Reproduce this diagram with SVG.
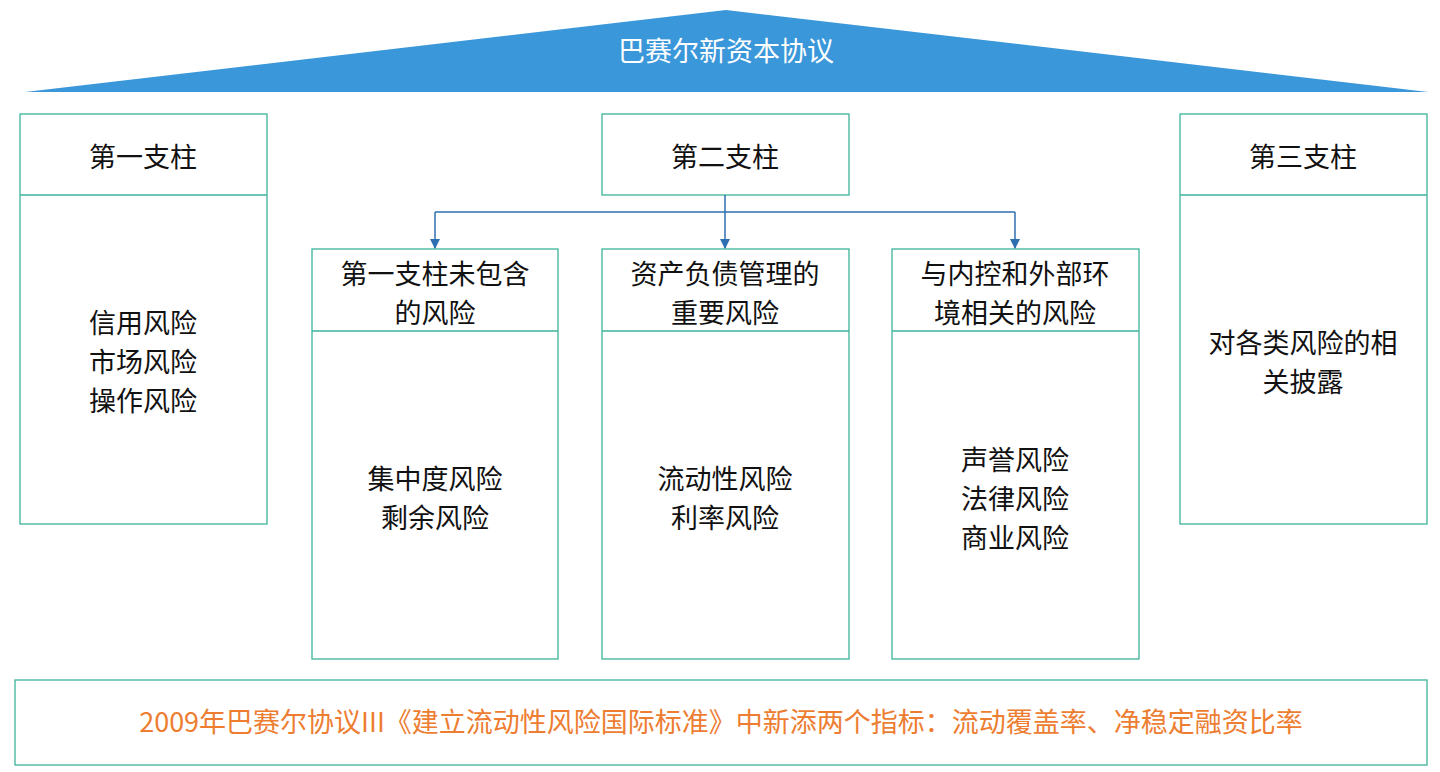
<svg xmlns="http://www.w3.org/2000/svg" width="1440" height="772" viewBox="0 0 1440 772">
<defs>
<style>
.b{fill:#fff;stroke:#3cb39a;stroke-width:1.3}
.t{font-family:"Noto Sans CJK SC","Noto Sans",sans-serif;font-size:27px;fill:#111;text-anchor:middle}
.c{fill:none;stroke:#2e6fb0;stroke-width:1.5}
</style>
<marker id="a" markerWidth="10" markerHeight="10" refX="9" refY="5" orient="auto" markerUnits="userSpaceOnUse"><path d="M0,0 L10,5 L0,10 Z" fill="#2e6fb0"/></marker>
</defs>
<rect width="1440" height="772" fill="#fff"/>
<g id="roof"><polygon points="25,92 726,10 1428,92" fill="#3a97d9"/>
<text x="726" y="61" class="t" style="fill:#fff">巴赛尔新资本协议</text></g>
<g id="p1"><rect class="b" x="20" y="114" width="247" height="410"/><line class="b" x1="20" y1="195" x2="267" y2="195"/>
<text class="t" x="143" y="167">第一支柱</text>
<text class="t" x="143" y="333">信用风险</text><text class="t" x="143" y="372">市场风险</text><text class="t" x="143" y="411">操作风险</text></g>
<g id="p2"><rect class="b" x="602" y="114" width="247" height="81"/><text class="t" x="725" y="167">第二支柱</text></g>
<g id="p3"><rect class="b" x="1180" y="114" width="247" height="410"/><line class="b" x1="1180" y1="195" x2="1427" y2="195"/>
<text class="t" x="1303" y="167">第三支柱</text>
<text class="t" x="1303" y="353">对各类风险的相</text><text class="t" x="1303" y="392">关披露</text></g>
<g id="s1"><rect class="b" x="312" y="249" width="246" height="410"/><line class="b" x1="312" y1="331" x2="558" y2="331"/>
<text class="t" x="435" y="284">第一支柱未包含</text><text class="t" x="435" y="323">的风险</text>
<text class="t" x="435" y="489">集中度风险</text><text class="t" x="435" y="528">剩余风险</text></g>
<g id="s2"><rect class="b" x="602" y="249" width="247" height="410"/><line class="b" x1="602" y1="331" x2="849" y2="331"/>
<text class="t" x="725" y="284">资产负债管理的</text><text class="t" x="725" y="323">重要风险</text>
<text class="t" x="725" y="489">流动性风险</text><text class="t" x="725" y="528">利率风险</text></g>
<g id="s3"><rect class="b" x="892" y="249" width="247" height="410"/><line class="b" x1="892" y1="331" x2="1139" y2="331"/>
<text class="t" x="1015" y="284">与内控和外部环</text><text class="t" x="1015" y="323">境相关的风险</text>
<text class="t" x="1015" y="470">声誉风险</text><text class="t" x="1015" y="509">法律风险</text><text class="t" x="1015" y="548">商业风险</text></g>
<g id="bottom"><rect class="b" x="15" y="680" width="1412" height="85"/>
<text class="t" x="721" y="732" style="fill:#ed7d31">2009年巴赛尔协议III《建立流动性风险国际标准》中新添两个指标：流动覆盖率、净稳定融资比率</text></g>
<g id="connectors">
<path class="c" d="M725,195 V212 M435,212 H1015"/>
<path class="c" d="M435,212 V248" marker-end="url(#a)"/>
<path class="c" d="M725,212 V248" marker-end="url(#a)"/>
<path class="c" d="M1015,212 V248" marker-end="url(#a)"/>
</g>
</svg>
